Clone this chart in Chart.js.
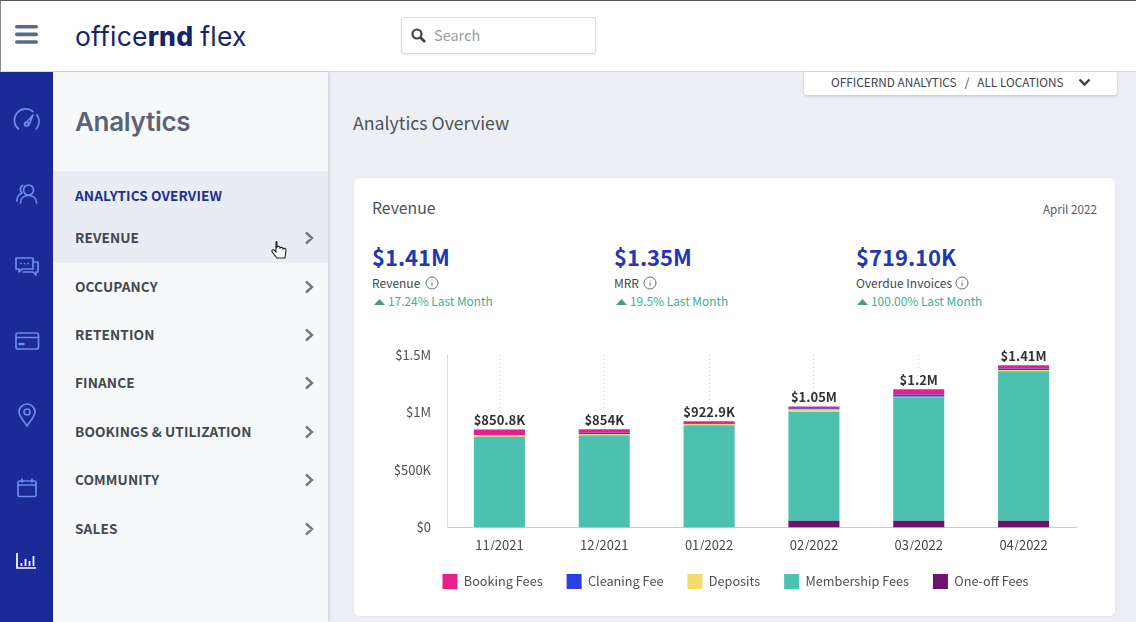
<!DOCTYPE html>
<html><head><meta charset="utf-8">
<script src="https://cdn.jsdelivr.net/npm/chart.js@4"></script>
<style>
*{box-sizing:border-box}
html,body{margin:0;padding:0;width:1136px;height:622px;overflow:hidden;background:#eeeff5;font-family:"Noto Sans CJK SC","Noto Sans",sans-serif;color:#444a4f}
.a{position:absolute;white-space:nowrap;line-height:1}
.nav{font-weight:700;font-size:13.65px;left:75px;color:#42484d;letter-spacing:.1px}
.big{font-size:22px;font-weight:700;color:#2137b5}
.lab{font-size:12px;color:#44494e}
.up{font-size:11.9px;color:#3cb08e}
svg{position:absolute;overflow:visible}
.ic{fill:none;stroke:#6d8be8;stroke-width:1.7;stroke-linecap:round;stroke-linejoin:round}
</style></head><body>
<div class="a" style="left:0;top:0;width:1136px;height:72px;background:#fff;border-top:1px solid #555;border-left:1px solid #888;border-bottom:1px solid #d8d9dc"></div>
<svg style="left:15px;top:25px" width="24" height="20"><g fill="#5a6a85"><rect width="23" height="3.6" rx="1.8"/><rect y="7.6" width="23" height="3.6" rx="1.8"/><rect y="15.2" width="23" height="3.6" rx="1.8"/></g></svg>
<div class="a" style="left:75px;top:20px;font:400 26.5px Inter,sans-serif;color:#16246a;letter-spacing:.2px">office<b style="font-weight:800">rnd</b><span style="margin-left:7px">flex</span></div>
<div class="a" style="left:401px;top:17px;width:195px;height:37px;background:#fff;border:1px solid #dcdcdc;border-radius:3px;box-shadow:0 1px 2px rgba(0,0,0,.08)"></div>
<svg style="left:411px;top:28px" width="15" height="15"><circle cx="6" cy="6" r="4.5" fill="none" stroke="#3c4248" stroke-width="2.2"/><line x1="9.5" y1="9.5" x2="14" y2="14" stroke="#3c4248" stroke-width="2.6"/></svg>
<div class="a" style="left:434px;top:28px;font-size:14.5px;color:#9a9da1">Search</div>

<div class="a" style="left:0;top:72px;width:53px;height:550px;background:#1b2a96"></div>
<div class="a" style="left:53px;top:72px;width:275px;height:550px;background:#f7f8fa;box-shadow:1px 0 3px rgba(0,0,0,.16)"></div>
<div class="a" style="left:53px;top:171px;width:275px;height:92px;background:#eaecf3"></div>

<svg class="ic" style="left:14px;top:109px" width="26" height="22"><path d="M4.5 20A11 11 0 0 1 19 2.5M23 6a11 11 0 0 1-.8 14"/><path d="M11 15l8-9-4 10"/><circle cx="12.5" cy="15" r="2"/></svg>
<svg class="ic" style="left:16px;top:183px" width="22" height="22"><circle cx="12.5" cy="7" r="5"/><path d="M4.5 20c0-5 3.5-7.500 8-7.500s8 2.500 8 7.500M6.500 2.500C4 3.500 3.500 8 6 10 3 11 1 14 1 18"/></svg>
<svg class="ic" style="left:15px;top:256px" width="24" height="20"><path d="M1 2h17v11H7l-3 3v-3H1zM19 6h4v10h-2v3l-3-3H8"/><path d="M6 7.500h.1M9.500 7.500h.1M13 7.500h.1"/></svg>
<svg class="ic" style="left:15px;top:332px" width="24" height="17"><rect x="1" y="1" width="22.500" height="16" rx="2"/><line x1="1" y1="5.500" x2="23.500" y2="5.500"/><line x1="4.500" y1="12" x2="8.500" y2="12" stroke-width="2.500"/></svg>
<svg class="ic" style="left:18px;top:403px" width="18" height="24"><path d="M9 23C5 17 1 13 1 9a8 8 0 0 1 16 0c0 4-4 8-8 14z"/><circle cx="9" cy="9" r="3"/></svg>
<svg class="ic" style="left:17px;top:478px" width="20" height="19"><rect x="1" y="3" width="18" height="15.500" rx="1.500"/><line x1="1" y1="7" x2="19" y2="7"/><line x1="5" y1="1" x2="5" y2="4"/><line x1="15" y1="1" x2="15" y2="4"/></svg>
<svg style="left:16px;top:553px" width="21" height="17"><g fill="none" stroke="#fff" stroke-width="1.700"><path d="M1 0v15h19"/><path d="M5.500 13v-3M9.500 13V6M13.500 13V8M17.500 13V3"/></g></svg>

<div class="a" style="left:75px;top:106px;font:600 26px Inter,sans-serif;color:#5a6378;letter-spacing:-.3px">Analytics</div>
<div class="a nav" style="top:189px;color:#1c2f95">ANALYTICS OVERVIEW</div>
<div class="a nav" style="top:231px">REVENUE</div>
<div class="a nav" style="top:280px">OCCUPANCY</div>
<div class="a nav" style="top:328px">RETENTION</div>
<div class="a nav" style="top:376px">FINANCE</div>
<div class="a nav" style="top:425px">BOOKINGS &amp; UTILIZATION</div>
<div class="a nav" style="top:473px">COMMUNITY</div>
<div class="a nav" style="top:522px">SALES</div>
<svg style="left:0;top:0" width="330" height="622"><g fill="none" stroke="#73797c" stroke-width="2.400"><path d="M306 232.500l6 5.500-6 5.500M306 281.500l6 5.500-6 5.500M306 329.500l6 5.500-6 5.500M306 377.500l6 5.500-6 5.500M306 426.500l6 5.500-6 5.500M306 474.500l6 5.500-6 5.500M306 523.500l6 5.500-6 5.500"/></g>
<path d="M276 243v9l-2-2c-2-1-3 1-1 3l4 5h8l1-8c0-2-2-2-3-1 0-2-2-2-3-1 0-2-2-2-3-1v-4c0-2-1-2-1 0z" fill="#fff" stroke="#222" stroke-width="1.100"/></svg>

<div class="a" style="left:353px;top:114px;font-size:17.700px;color:#4c5358">Analytics Overview</div>
<div class="a" style="left:804px;top:72px;width:313px;height:23px;background:#fff;box-shadow:0 1px 3px rgba(0,0,0,.2);border-radius:0 0 3px 3px"></div>
<div class="a" style="left:831px;top:76px;font-size:11.800px;color:#3e4449">OFFICERND ANALYTICS<span style="margin:0 8px">/</span>ALL LOCATIONS</div>
<svg style="left:1078px;top:78px" width="13" height="9"><path d="M1.500 1.500l5 5 5-5" fill="none" stroke="#3a3f44" stroke-width="2.400"/></svg>

<div class="a" style="left:354px;top:178px;width:761px;height:438px;background:#fff;border-radius:5px;box-shadow:0 0 3px rgba(0,0,0,.07)"></div>
<div class="a" style="left:372px;top:200px;font-size:15.800px;color:#4d5358">Revenue</div>
<div class="a" style="right:39px;top:203px;font-size:11.700px;color:#555b60">April 2022</div>

<div class="a big" style="left:372px;top:245px">$1.41M</div>
<div class="a lab" style="left:372px;top:277px">Revenue</div>
<div class="a up" style="left:388px;top:295px">17.24% Last Month</div>
<div class="a big" style="left:614px;top:245px">$1.35M</div>
<div class="a lab" style="left:614px;top:277px">MRR</div>
<div class="a up" style="left:630px;top:295px">19.5% Last Month</div>
<div class="a big" style="left:856px;top:245px">$719.10K</div>
<div class="a lab" style="left:856px;top:277px">Overdue Invoices</div>
<div class="a up" style="left:871px;top:295px">100.00% Last Month</div>
<svg style="left:0;top:0" width="1136" height="622"><g fill="none" stroke="#5b6166" stroke-width=".9"><circle cx="432" cy="283" r="6"/><circle cx="650" cy="283" r="6"/><circle cx="962" cy="283" r="6"/><path d="M432 280.500v.8M432 282.500v3.500M650 280.500v.8M650 282.500v3.500M962 280.500v.8M962 282.500v3.500"/></g>
<g fill="#4f9a6e"><path d="M374 305l5.500-6 5.500 6zM616 305l5.500-6 5.500 6zM857 305l5.500-6 5.500 6z"/></g></svg>

<div class="a" style="left:360px;top:331px;width:751px;height:269px"><canvas id="c"></canvas></div>
<script>
const categories = ["11/2021","12/2021","01/2022","02/2022","03/2022","04/2022"];
const oneOffFees = [0,0,0,58000,58000,58000];
const membershipFees = [788000,800000,887000,947000,1072000,1300000];
const deposits = [12000,10000,12000,20000,6000,10000];
const cleaningFee = [4000,12000,6000,10000,18000,12000];
const bookingFees = [46800,32000,17900,15000,46000,30000];
const totalLabels = ["$850.8K","$854K","$922.9K","$1.05M","$1.2M","$1.41M"];
const yTickValues = [0,500000,1000000,1500000];
const yTickLabels = ["$0","$500K","$1M","$1.5M"];
const legendOrder = ["Booking Fees","Cleaning Fee","Deposits","Membership Fees","One-off Fees"];

const FONT = '"Noto Sans CJK SC","Noto Sans",sans-serif';
const totals = categories.map((_, i) => oneOffFees[i]+membershipFees[i]+deposits[i]+cleaningFee[i]+bookingFees[i]);
const totalsPlugin = {
  id:'totals',
  afterDatasetsDraw(chart){
    const {ctx,scales:{x,y}} = chart;
    ctx.save();
    ctx.font = '700 13px '+FONT;
    ctx.fillStyle = '#2f3337';
    ctx.textAlign = 'center';
    ctx.textBaseline = 'bottom';
    totalLabels.forEach((t,i)=>ctx.fillText(t,x.getPixelForValue(i),y.getPixelForValue(totals[i])-3));
    ctx.restore();
  }
};
const ds = (label,data,color)=>({label,data,backgroundColor:color,borderWidth:0,stack:'s',barPercentage:.487,categoryPercentage:1});
new Chart(document.getElementById('c'),{
  type:'bar',
  data:{labels:categories,datasets:[
    ds("One-off Fees",oneOffFees,'#6b1469'),
    ds("Membership Fees",membershipFees,'#4dc1b0'),
    ds("Deposits",deposits,'#f5db6b'),
    ds("Cleaning Fee",cleaningFee,'#2c3fe0'),
    ds("Booking Fees",bookingFees,'#e61f8a')
  ]},
  plugins:[totalsPlugin],
  options:{
    responsive:true,maintainAspectRatio:false,animation:false,
    layout:{padding:{left:35,right:35,top:6,bottom:1}},
    plugins:{
      tooltip:{enabled:false},
      legend:{position:'bottom',align:'center',
        labels:{boxWidth:15,boxHeight:15,padding:24,color:'#4a4f54',font:{family:FONT,size:12.7},
          sort:(a,b)=>legendOrder.indexOf(a.text)-legendOrder.indexOf(b.text)}}
    },
    scales:{
      x:{stacked:true,
        afterFit:s=>{s.height-=13},
        grid:{offset:false,color:'#cfd2d4',drawTicks:false,tickBorderDash:[1,3]},
        border:{display:true,color:'#c9cbce',dash:[1,3]},
        ticks:{color:'#44494e',font:{family:FONT,size:13},padding:10,maxRotation:0}},
      y:{stacked:true,min:0,max:1500000,
        afterBuildTicks:s=>{s.ticks=yTickValues.map(v=>({value:v}))},
        afterFit:s=>{s.width=52},
        grid:{display:false,drawTicks:false},
        border:{display:true,color:'#d9dfd2'},
        ticks:{color:'#4a4f54',font:{family:FONT,size:13},padding:16,
          callback:v=>yTickLabels[yTickValues.indexOf(v)]}}
    }
  }
});
</script>
</body></html>
